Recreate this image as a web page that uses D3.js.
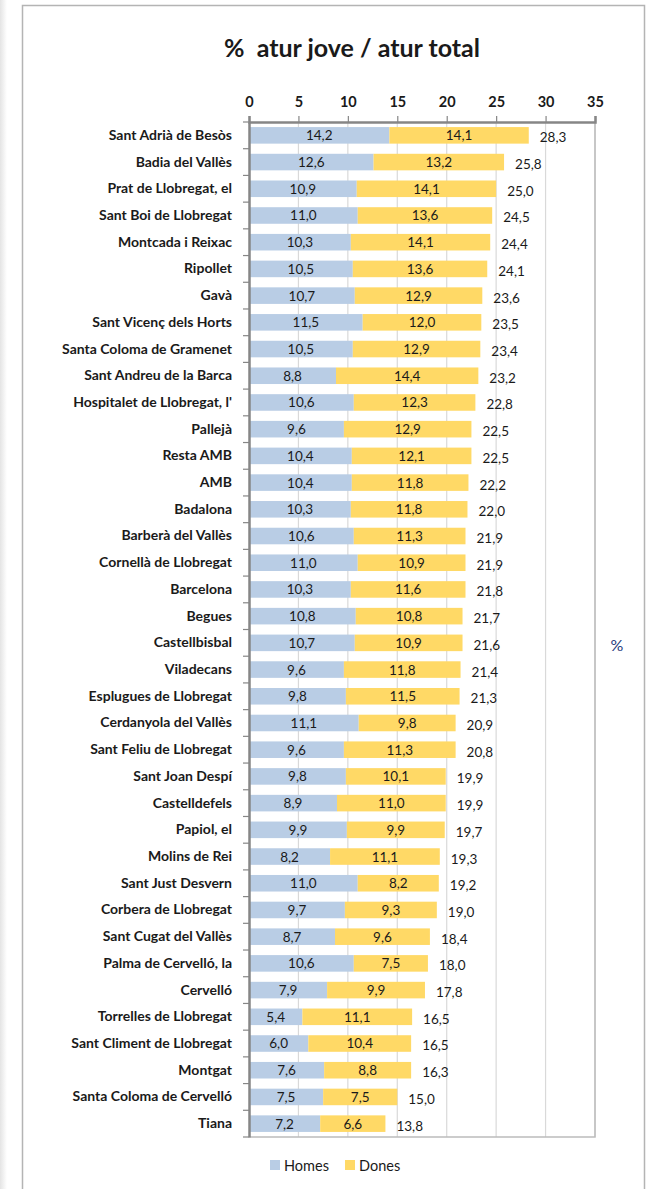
<!DOCTYPE html>
<html>
<head>
<meta charset="utf-8">
<script src="https://cdn.jsdelivr.net/npm/d3@7"></script>
<style>
  body { margin: 0; background: #fff; }
  svg { display: block; font-family: Lato, "Open Sans", sans-serif; }
</style>
</head>
<body>
<div id="chart"></div>
<script>
// chart data
var municipis = ["Sant Adrià de Besòs", "Badia del Vallès", "Prat de Llobregat, el", "Sant Boi de Llobregat",
  "Montcada i Reixac", "Ripollet", "Gavà", "Sant Vicenç dels Horts", "Santa Coloma de Gramenet",
  "Sant Andreu de la Barca", "Hospitalet de Llobregat, l'", "Pallejà", "Resta AMB", "AMB", "Badalona",
  "Barberà del Vallès", "Cornellà de Llobregat", "Barcelona", "Begues", "Castellbisbal", "Viladecans",
  "Esplugues de Llobregat", "Cerdanyola del Vallès", "Sant Feliu de Llobregat", "Sant Joan Despí",
  "Castelldefels", "Papiol, el", "Molins de Rei", "Sant Just Desvern", "Corbera de Llobregat",
  "Sant Cugat del Vallès", "Palma de Cervelló, la", "Cervelló", "Torrelles de Llobregat",
  "Sant Climent de Llobregat", "Montgat", "Santa Coloma de Cervelló", "Tiana"];
var homes = [14.2, 12.6, 10.9, 11.0, 10.3, 10.5, 10.7, 11.5, 10.5, 8.8, 10.6, 9.6, 10.4, 10.4, 10.3,
  10.6, 11.0, 10.3, 10.8, 10.7, 9.6, 9.8, 11.1, 9.6, 9.8, 8.9, 9.9, 8.2, 11.0, 9.7, 8.7, 10.6, 7.9,
  5.4, 6.0, 7.6, 7.5, 7.2];
var dones = [14.1, 13.2, 14.1, 13.6, 14.1, 13.6, 12.9, 12.0, 12.9, 14.4, 12.3, 12.9, 12.1, 11.8, 11.8,
  11.3, 10.9, 11.6, 10.8, 10.9, 11.8, 11.5, 9.8, 11.3, 10.1, 11.0, 9.9, 11.1, 8.2, 9.3, 9.6, 7.5, 9.9,
  11.1, 10.4, 8.8, 7.5, 6.6];
var totals = [28.3, 25.8, 25.0, 24.5, 24.4, 24.1, 23.6, 23.5, 23.4, 23.2, 22.8, 22.5, 22.5, 22.2, 22.0,
  21.9, 21.9, 21.8, 21.7, 21.6, 21.4, 21.3, 20.9, 20.8, 19.9, 19.9, 19.7, 19.3, 19.2, 19.0, 18.4, 18.0,
  17.8, 16.5, 16.5, 16.3, 15.0, 13.8];
var xTicks = [0, 5, 10, 15, 20, 25, 30, 35];
var seriesNames = ["Homes", "Dones"];

var colHomes = "#b9cde5";
var colDones = "#ffd966";

var width = 648, height = 1189;
var margin = {top: 122, left: 249, right: 53, bottom: 52};
var plotW = width - margin.left - margin.right;
var plotH = height - margin.top - margin.bottom;

var fmt = function(v) { return v.toFixed(1).replace(".", ","); };

var svg = d3.select("#chart").append("svg")
  .attr("width", width)
  .attr("height", height);

// left shadow + frame
var grad = svg.append("defs").append("linearGradient").attr("id", "shadow");
grad.append("stop").attr("offset", "0%").attr("stop-color", "#e4e4e4");
grad.append("stop").attr("offset", "100%").attr("stop-color", "#ffffff");
svg.append("rect").attr("x", 0).attr("y", 0).attr("width", 7).attr("height", height).attr("fill", "url(#shadow)");
svg.append("path")
  .attr("d", "M22.5," + height + "V5.5H644.5V" + height)
  .attr("fill", "none").attr("stroke", "#b4b4b4").attr("stroke-width", 1.5);

svg.append("text")
  .attr("x", 352).attr("y", 57)
  .attr("text-anchor", "middle")
  .attr("font-size", 25).attr("font-weight", "bold")
  .attr("fill", "#1a1a1a")
  .text("%\u00a0 atur jove / atur total");

var x = d3.scaleLinear().domain([0, 35]).range([0, plotW]);
var y = d3.scaleBand().domain(municipis).range([0, plotH]).paddingInner(0.38).paddingOuter(0.19);

var chart = svg.append("g").attr("transform", "translate(" + margin.left + "," + margin.top + ")");

// gridlines
chart.selectAll("line.grid")
  .data(xTicks.slice(1))
  .enter().append("line")
  .attr("class", "grid")
  .attr("x1", d => x(d)).attr("x2", d => x(d))
  .attr("y1", 0).attr("y2", plotH)
  .attr("stroke", "#d9d9d9").attr("stroke-width", 1.2);

// plot border (right + bottom)
chart.append("path")
  .attr("d", "M0," + plotH + "H" + x(35) + "V0")
  .attr("fill", "none").attr("stroke", "#bcbcbc").attr("stroke-width", 1.5);

var rows = chart.selectAll("g.row")
  .data(municipis)
  .enter().append("g")
  .attr("class", "row")
  .attr("transform", d => "translate(0," + y(d) + ")");

rows.append("rect")
  .attr("x", 0)
  .attr("width", (d, i) => x(homes[i]))
  .attr("height", y.bandwidth())
  .attr("fill", colHomes);

rows.append("rect")
  .attr("x", (d, i) => x(homes[i]))
  .attr("width", (d, i) => x(dones[i]))
  .attr("height", y.bandwidth())
  .attr("fill", colDones);

var labelY = y.bandwidth() / 2 + 5;
rows.append("text")
  .attr("x", (d, i) => x(homes[i] / 2))
  .attr("y", labelY)
  .attr("text-anchor", "middle").attr("font-size", 13.5).attr("fill", "#1a1a1a")
  .text((d, i) => fmt(homes[i]));

rows.append("text")
  .attr("x", (d, i) => x(homes[i] + dones[i] / 2))
  .attr("y", labelY)
  .attr("text-anchor", "middle").attr("font-size", 13.5).attr("fill", "#1a1a1a")
  .text((d, i) => fmt(dones[i]));

rows.append("text")
  .attr("x", (d, i) => x(homes[i] + dones[i]) + 11)
  .attr("y", labelY + 2)
  .attr("font-size", 13.5).attr("fill", "#1a1a1a")
  .text((d, i) => fmt(totals[i]));

// top axis
var topAxis = chart.append("g")
  .call(d3.axisTop(x).tickValues(xTicks).tickSize(6).tickPadding(9).tickFormat(d3.format("d")));
topAxis.select(".domain").attr("stroke", "#868686").attr("stroke-width", 2.5);
topAxis.selectAll(".tick line").attr("stroke", "#868686").attr("stroke-width", 1.2);
topAxis.selectAll(".tick text")
  .attr("font-size", 14.5).attr("font-weight", "bold").attr("fill", "#1a1a1a")
  .attr("font-family", "Lato, sans-serif");

// left axis
var leftAxis = chart.append("g")
  .call(d3.axisLeft(y).tickSize(0).tickPadding(17));
leftAxis.select(".domain").attr("stroke", "#868686").attr("stroke-width", 2.5);
leftAxis.selectAll(".tick text")
  .attr("font-size", 14).attr("font-weight", "bold").attr("fill", "#1a1a1a")
  .attr("font-family", "Lato, sans-serif");

// category separator ticks
chart.selectAll("line.sep")
  .data(d3.range(municipis.length + 1))
  .enter().append("line")
  .attr("class", "sep")
  .attr("x1", -6).attr("x2", 0)
  .attr("y1", d => d * y.step()).attr("y2", d => d * y.step())
  .attr("stroke", "#868686").attr("stroke-width", 1.2);

// side "%" label
svg.append("text")
  .attr("x", 617).attr("y", 651)
  .attr("text-anchor", "middle")
  .attr("font-size", 16).attr("fill", "#1f3a7a")
  .text("%");

// legend
var legend = svg.append("g").attr("transform", "translate(270,1160)");
var legX = [0, 75];
var legCol = [colHomes, colDones];
seriesNames.forEach(function(name, i) {
  legend.append("rect")
    .attr("x", legX[i]).attr("y", 0).attr("width", 10).attr("height", 10)
    .attr("fill", legCol[i]);
  legend.append("text")
    .attr("x", legX[i] + 14).attr("y", 11)
    .attr("font-size", 14.5).attr("fill", "#1a1a1a")
    .text(name);
});
</script>
</body>
</html>
